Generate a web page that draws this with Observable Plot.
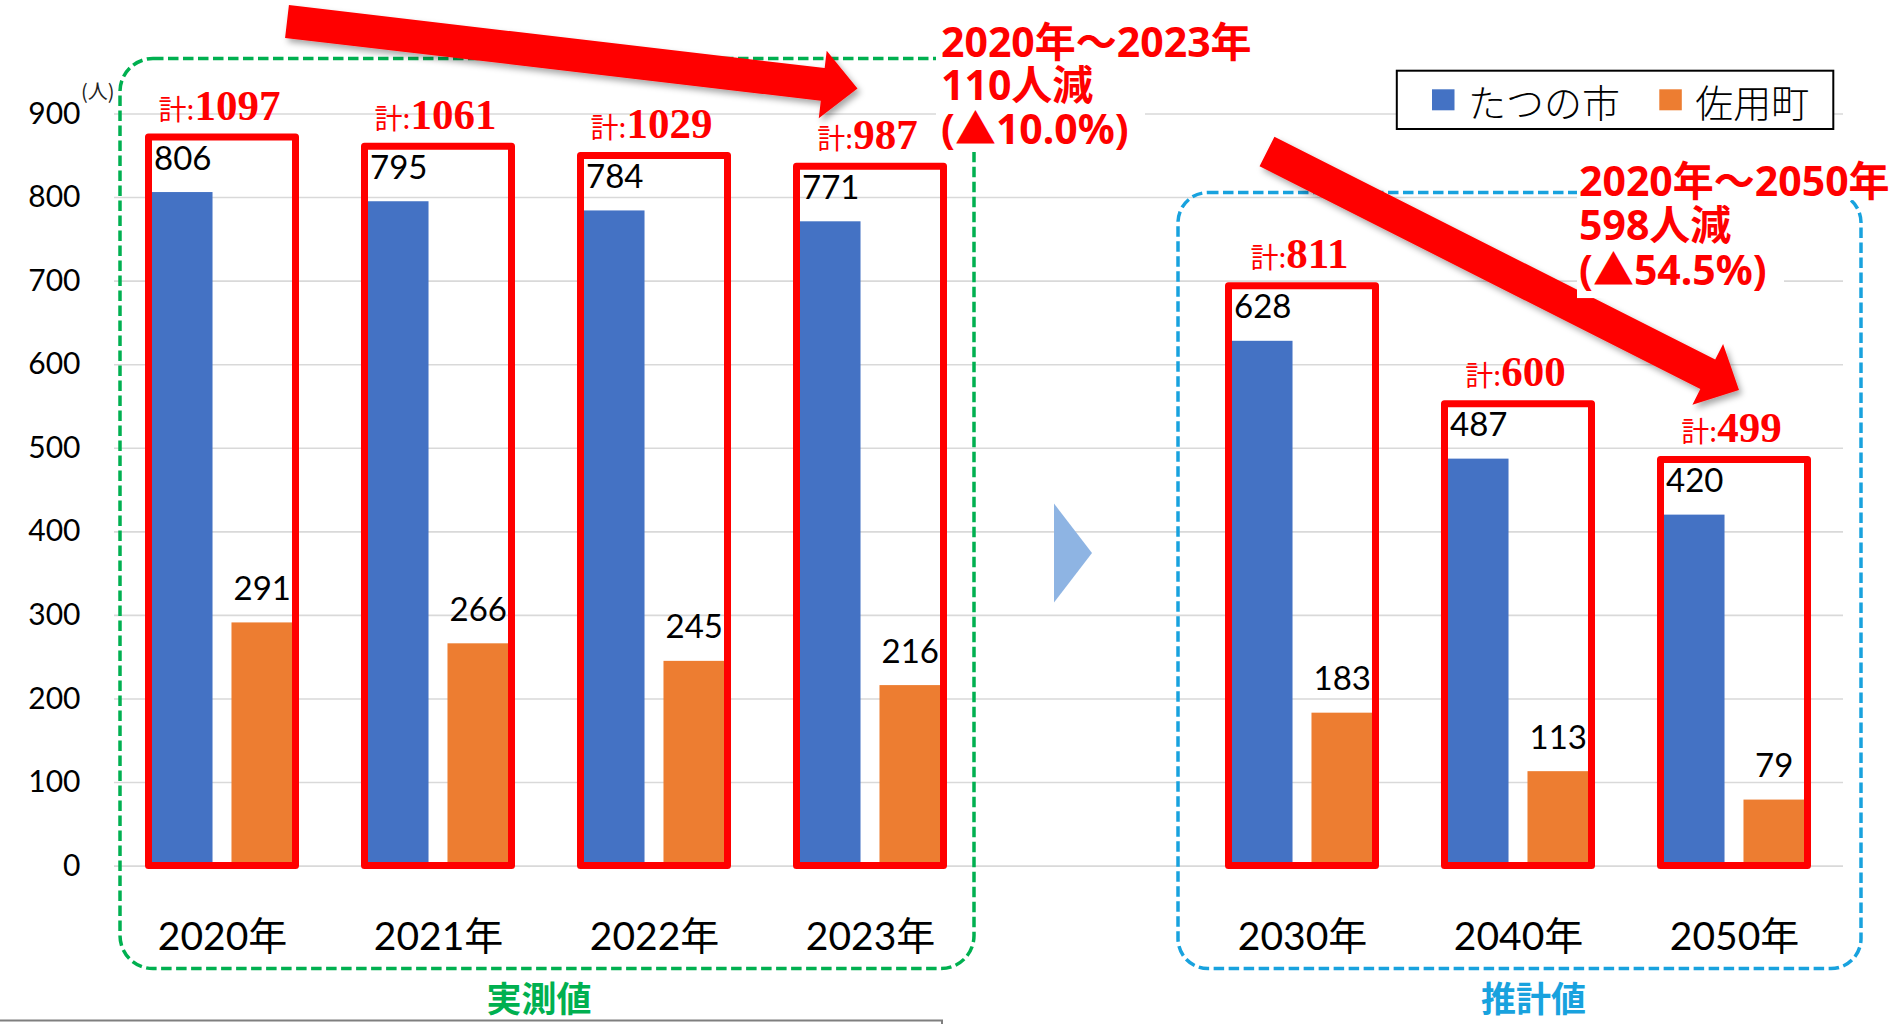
<!DOCTYPE html>
<html><head><meta charset="utf-8">
<script src="https://cdn.jsdelivr.net/npm/d3@7"></script>
<script src="https://cdn.jsdelivr.net/npm/@observablehq/plot@0.6"></script>
<style>html,body{margin:0;padding:0;background:#fff;overflow:hidden}</style>
</head><body><div id="chart"></div>
<script>
// ---- data ----
const years = ["2020年","2021年","2022年","2023年","2030年","2040年","2050年"];
const tatsuno = [806,795,784,771,628,487,420];
const sayo = [291,266,245,216,183,113,79];
const totals = [1097,1061,1029,987,811,600,499];
const yTicks = [0,100,200,300,400,500,600,700,800,900];
const seriesNames = ["たつの市","佐用町"];
const seriesColors = ["#4472C4","#ED7D31"];
const gapSlot = " ";
const xDomain = [...years.slice(0,4), gapSlot, ...years.slice(4)];
const groupLabels = ["実測値","推計値"];
const notes = [["2020年～2023年","110人減","(▲10.0%)"],["2020年～2050年","598人減","(▲54.5%)"]];
const unitLabel = "(人)";

const rows = years.map((year,i)=>({year, tatsuno: tatsuno[i], sayo: sayo[i], total: totals[i]}));

// ---- layout ----
const W = 1893, H = 1024;
const mL = 114, mR = 50, mT = 113.5, mB = 158.4;
const step = (W - mL - mR) / xDomain.length;
const bw = step * 0.65;
const barW = 61;
const labelDx = bw/2 - barW/2;
const LATIN = "Lato, 'Noto Sans CJK JP', sans-serif";

const chart = Plot.plot({
  width: W, height: H,
  marginLeft: mL, marginRight: mR, marginTop: mT, marginBottom: mB,
  style: {fontFamily: LATIN, background: "white", color: "black", overflow: "visible"},
  x: {type: "band", domain: xDomain, paddingInner: 0.35, paddingOuter: 0.175},
  y: {domain: [0, 900]},
  marks: [
    Plot.gridY(yTicks, {stroke: "#d9d9d9", strokeOpacity: 1, strokeWidth: 1.6}),
    Plot.axisY(yTicks, {tickSize: 0, tickPadding: 34, fontSize: 30, label: null}),
    Plot.axisX({tickSize: 0, tickPadding: 56, fontSize: 39, label: null}),
    Plot.barY(rows, {x: "year", y: "tatsuno", fill: seriesColors[0], insetRight: bw - barW}),
    Plot.barY(rows, {x: "year", y: "sayo", fill: seriesColors[1], insetLeft: bw - barW}),
    Plot.barY(rows, {x: "year", y: "tatsuno", fill: "none", stroke: "#FF0000", strokeWidth: 7,
      strokeLinejoin: "round", insetLeft: -3.5, insetRight: -3.5, insetTop: -55, insetBottom: 0}),
    Plot.text(rows, {x: "year", y: "tatsuno", text: d => String(d.tatsuno), dx: -labelDx, dy: -23,
      lineAnchor: "bottom", fontSize: 33, fill: "black", fontFamily: LATIN}),
    Plot.text(rows, {x: "year", y: "sayo", text: d => String(d.sayo), dx: labelDx, dy: -23,
      lineAnchor: "bottom", fontSize: 33, fill: "black", fontFamily: LATIN}),
    Plot.text(rows, {x: "year", y: "tatsuno", text: d => "計:" + d.total, dx: -3, dy: -73,
      lineAnchor: "bottom", fill: "#FF0000"})
  ]
});
document.getElementById("chart").appendChild(chart);

// ---- decorations anchored on the plot's scales ----
const svg = d3.select(chart);
const xs = chart.scale("x"), ys = chart.scale("y");
const bwd = xs.bandwidth;
const bx0 = c => xs.apply(c), bx1 = c => xs.apply(c) + bwd, bxc = c => xs.apply(c) + bwd/2;
const Y = v => ys.apply(v);

// split total labels into two fonts
svg.selectAll("text").filter(function(){ return this.textContent.startsWith("計:"); }).each(function(){
  const num = this.textContent.slice(2);
  this.textContent = "";
  const t = d3.select(this);
  t.append("tspan").attr("font-family","'Noto Sans CJK JP', sans-serif").attr("font-size",28).text("計:");
  t.append("tspan").attr("font-family","'Liberation Serif', serif").attr("font-weight","bold").attr("font-size",43).text(num);
});

const defs = svg.append("defs");
defs.append("filter").attr("id","shd").attr("x","-10%").attr("y","-20%").attr("width","130%").attr("height","160%")
  .append("feDropShadow").attr("dx",3).attr("dy",4).attr("stdDeviation",3)
  .attr("flood-color","#000").attr("flood-opacity",0.35);

const deco = svg.append("g").attr("text-anchor","start");

// unit label
deco.append("text").attr("x", mL - 33).attr("y", Y(900) - 23).attr("dominant-baseline","central")
  .attr("text-anchor","start")
  .attr("font-family","'Noto Sans CJK JP', sans-serif").attr("font-size",20).attr("fill","#222").text(unitLabel);

// dashed group boxes
const boxes = [
  {x0: bx0(years[0]) - 32, x1: bx1(years[3]) + 34, y0: Y(900) - 55, y1: Y(0) + 103, color: "#00B050", r: 33, ldx: -8},
  {x0: bx0(years[4]) - 54, x1: bx1(years[6]) + 57, y0: Y(800) - 4.5, y1: Y(0) + 103, color: "#18A2DE", r: 30, ldx: 14}
];
boxes.forEach((b, i) => {
  deco.append("rect").attr("x", b.x0).attr("y", b.y0).attr("width", b.x1 - b.x0).attr("height", b.y1 - b.y0)
    .attr("rx", b.r).attr("fill","none").attr("stroke", b.color).attr("stroke-width",3.5)
    .attr("stroke-dasharray","10.5,4.5");
  deco.append("text").attr("x", (b.x0 + b.x1)/2 + b.ldx).attr("y", Y(0) + 146).attr("text-anchor","middle")
    .attr("font-family","'Noto Sans CJK JP', sans-serif").attr("font-weight","bold").attr("font-size",35)
    .attr("fill", b.color).text(groupLabels[i]);
});

// light blue triangle in the gap slot
const tc = bxc(gapSlot), ty = Y(374);
deco.append("polygon").attr("points", [[tc-32, ty-49.5],[tc-32, ty+49.5],[tc+6, ty]].map(p=>p.join(",")).join(" "))
  .attr("fill","#8EB4E3");

// big red arrows
function arrowPts(t, p, s=33, h=68, L=35){
  const dx = p[0]-t[0], dy = p[1]-t[1], len = Math.hypot(dx,dy);
  const ux = dx/len, uy = dy/len, nx = -uy, ny = ux;
  const b = [p[0]-L*ux, p[1]-L*uy];
  return [
    [t[0]+nx*s/2, t[1]+ny*s/2],[b[0]+nx*s/2, b[1]+ny*s/2],[b[0]+nx*h/2, b[1]+ny*h/2],p,
    [b[0]-nx*h/2, b[1]-ny*h/2],[b[0]-nx*s/2, b[1]-ny*s/2],[t[0]-nx*s/2, t[1]-ny*s/2]
  ].map(q=>q.join(",")).join(" ");
}
const arrows = [
  {t: [bxc(years[0]) + 65, Y(900) - 92], p: [bxc(years[3]) - 12.5, Y(900) - 25]},
  {t: [bxc(years[4]) - 35, Y(900) + 38], p: [bxc(years[6]) + 5, Y(569)]}
];
arrows.forEach(a => deco.append("polygon").attr("points", arrowPts(a.t, a.p)).attr("fill","#FF0000").attr("filter","url(#shd)"));

// annotation notes with white backgrounds
const n1x = bx1(years[3]) + 1, n1y = Y(900);
deco.append("rect").attr("x", n1x - 5).attr("y", n1y - 95.5).attr("width", 209).attr("height", 134).attr("fill","white");
const n2x = bx1(years[6]) - 225, n2y = Y(800);
deco.append("rect").attr("x", n2x - 2).attr("y", n2y - 39).attr("width", 207).attr("height", 140).attr("fill","white");
deco.append("rect").attr("x", n2x + 205).attr("y", n2y - 39).attr("width", 73).attr("height", 42).attr("fill","white");
const noteBase = [[n1x, [n1y - 57, n1y - 13.5, n1y + 30.5]], [n2x, [n2y - 1, n2y + 43, n2y + 88]]];
notes.forEach((lines, i) => {
  const [nx, bases] = noteBase[i];
  lines.forEach((s, j) => deco.append("text").attr("x", nx).attr("y", bases[j]).attr("text-anchor","start")
    .attr("font-family","'Noto Sans', 'Noto Sans CJK JP', sans-serif").attr("font-weight","bold")
    .attr("font-size",41).attr("fill","#FF0000").text(s));
});

// legend
const lx1 = W - mR - 9.7, lx0 = lx1 - 436.5, ly0 = Y(900) - 42.8;
deco.append("rect").attr("x", lx0).attr("y", ly0).attr("width", lx1 - lx0).attr("height", 58.3)
  .attr("fill","white").attr("stroke","black").attr("stroke-width",2);
const legOff = [35.2, 262.5];
seriesNames.forEach((name, i) => {
  deco.append("rect").attr("x", lx0 + legOff[i]).attr("y", ly0 + 18.6).attr("width", 22.5).attr("height", 21)
    .attr("fill", seriesColors[i]);
  deco.append("text").attr("x", lx0 + legOff[i] + 36).attr("y", ly0 + 30).attr("dominant-baseline","central")
    .attr("text-anchor","start")
    .attr("font-family","'Noto Sans CJK JP', sans-serif").attr("font-weight",300).attr("font-size",38)
    .attr("fill","black").text(name);
});

// cropped frame edge at bottom left
deco.append("rect").attr("x", -2).attr("y", H - 3.5).attr("width", bx1(years[3]) + 4).attr("height", 20)
  .attr("fill","none").attr("stroke","#7f7f7f").attr("stroke-width",2);
</script>
</body></html>
